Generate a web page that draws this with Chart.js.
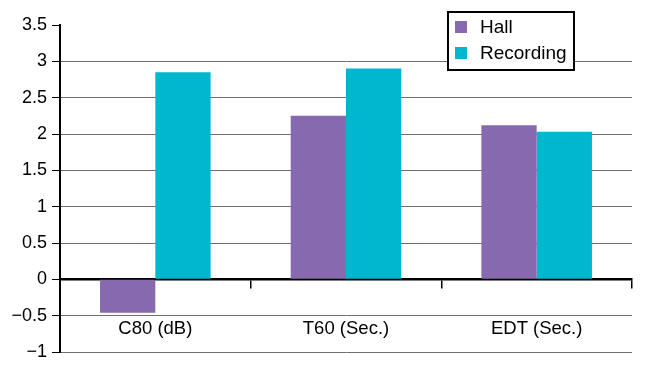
<!DOCTYPE html>
<html>
<head>
<meta charset="utf-8">
<script src="https://cdn.jsdelivr.net/npm/chart.js@4"></script>
<style>
html,body{margin:0;padding:0;background:#fff;}
#wrap{width:650px;height:378px;}
</style>
</head>
<body>
<div id="wrap"><canvas id="c" width="650" height="378"></canvas></div>
<script>
const categories = ['C80 (dB)', 'T60 (Sec.)', 'EDT (Sec.)'];
const hallValues = [-0.46, 2.25, 2.12];
const recordingValues = [2.85, 2.9, 2.03];
const seriesNames = ['Hall', 'Recording'];
const yTickLabels = ['\u22121', '\u22120.5', '0', '0.5', '1', '1.5', '2', '2.5', '3', '3.5'];

const colors = ['#8669AE', '#00B7CF'];
const FONT = 'Arial, "Liberation Sans", sans-serif';

const boxLegend = {
  id: 'boxLegend',
  afterDraw(chart) {
    const ctx = chart.ctx;
    const x = 448, y = 12, w = 126, h = 58;
    ctx.save();
    ctx.fillStyle = '#fff';
    ctx.fillRect(x, y, w, h);
    ctx.strokeStyle = '#000';
    ctx.lineWidth = 2;
    ctx.strokeRect(x, y, w, h);
    ctx.font = '19px ' + FONT;
    ctx.textBaseline = 'middle';
    chart.data.datasets.forEach((ds, i) => {
      const cy = y + 15 + i * 26;
      ctx.fillStyle = ds.backgroundColor;
      ctx.fillRect(x + 7, cy - 6, 12, 12);
      ctx.fillStyle = '#000';
      ctx.fillText(ds.label, x + 32, cy + 1);
    });
    ctx.restore();
  }
};

new Chart(document.getElementById('c'), {
  type: 'bar',
  data: {
    labels: categories,
    datasets: [
      { label: seriesNames[0], data: hallValues, backgroundColor: colors[0] },
      { label: seriesNames[1], data: recordingValues, backgroundColor: colors[1] }
    ]
  },
  options: {
    responsive: false,
    animation: false,
    devicePixelRatio: 1,
    layout: { padding: { top: 25, right: 18, bottom: 26, left: 0 } },
    plugins: { legend: { display: false }, tooltip: { enabled: false } },
    datasets: { bar: { categoryPercentage: 0.58, barPercentage: 1 } },
    scales: {
      x: {
        position: { y: 0 },
        grid: { offset: true, drawOnChartArea: false, drawTicks: true, tickLength: 8, color: '#000', lineWidth: 1.5 },
        border: { display: true, color: '#000', width: 2.5 },
        ticks: { color: '#000', font: { family: FONT, size: 18.5 }, padding: 30 }
      },
      y: {
        min: -1, max: 3.5,
        afterFit(s) { s.width = 60; },
        afterBuildTicks(s) {
          s.ticks = yTickLabels.map((_, i) => ({ value: -1 + i * 0.5 }));
        },
        grid: {
          color: (c) => (c.tick && c.tick.value === 3.5) ? 'rgba(0,0,0,0)' : '#6e6e6e',
          lineWidth: 1,
          tickColor: '#000',
          tickLength: 8
        },
        border: { display: true, color: '#000', width: 2 },
        ticks: {
          color: '#000',
          font: { family: FONT, size: 18 },
          padding: 5,
          callback: (v, i) => yTickLabels[i]
        }
      }
    }
  },
  plugins: [boxLegend]
});
</script>
</body>
</html>
